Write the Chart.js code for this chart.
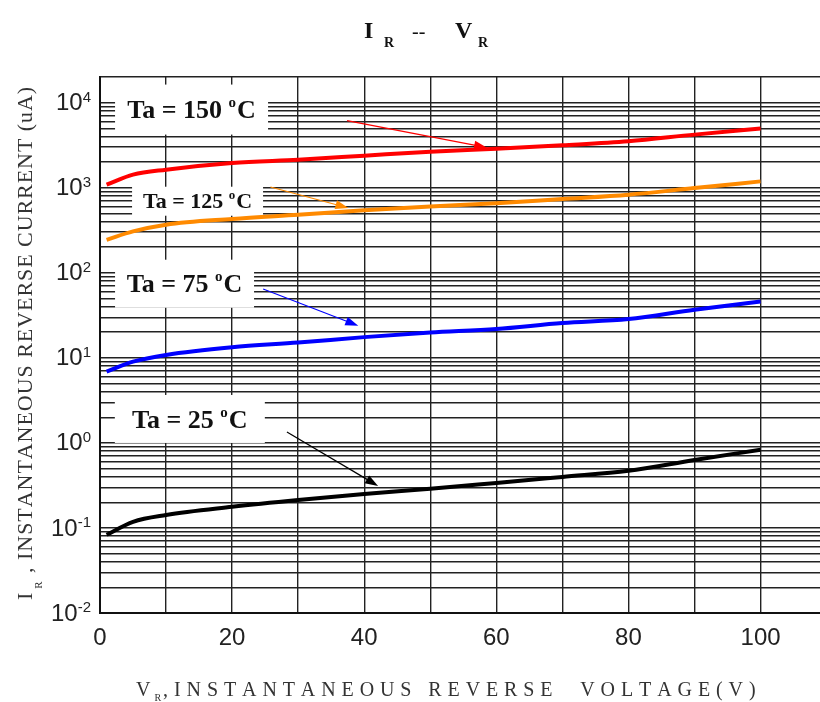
<!DOCTYPE html>
<html><head><meta charset="utf-8">
<script src="https://cdn.jsdelivr.net/npm/chart.js@4/dist/chart.umd.min.js"></script>
<style>html,body{margin:0;padding:0;background:#fff;overflow:hidden}canvas{display:block}</style>
</head><body>
<canvas id="c" width="820" height="702"></canvas>
<script>
// ---- data ----
const voltage = [1, 5, 10, 20, 30, 40, 50, 60, 70, 80, 90, 100];
const ir150 = [1084, 1422, 1629, 1950, 2133, 2378, 2650, 2870, 3150, 3510, 4204, 4950];
const ir125 = [244, 306, 367, 429, 481, 541, 600, 655, 736, 827, 991, 1186];
const ir75  = [6.9, 9.0, 10.8, 13.3, 15.1, 17.5, 19.8, 21.8, 25.6, 28.5, 36.7, 45.9];
const ir25  = [0.083, 0.118, 0.142, 0.177, 0.213, 0.251, 0.288, 0.338, 0.398, 0.469, 0.63, 0.83];
const seriesLabels = ['Ta = 150 °C', 'Ta = 125 °C', 'Ta = 75 °C', 'Ta = 25 °C'];
const xTickValues = [0, 10, 20, 30, 40, 50, 60, 70, 80, 90, 100];
const xLabelValues = [0, 20, 40, 60, 80, 100];
const yDecadeExponents = [-2, -1, 0, 1, 2, 3, 4];
const yMantissas = [1, 2, 3, 4, 5, 6, 7, 8, 9];
const yMin = 0.01, yMax = 20000, xMin = 0, xMax = 109;

// ---- annotation layout (data coordinates for anchors) ----
const seriesColors = ['#ff0000', '#ff8a00', '#0000ff', '#000000'];
const labelLayout = [
  {size: 26, cx: 13.86, cy: 8280, w: 153, h: 50, from: {x: 37.4, y: 6140}, to: {x: 58.6, y: 2955}},
  {size: 22, cx: 14.77, cy: 693,  w: 131, h: 29, from: {x: 25.8, y: 1018}, to: {x: 37.6, y: 577}},
  {size: 26, cx: 12.8,  cy: 74.3, w: 139, h: 48, from: {x: 24.7, y: 64.3}, to: {x: 39.1, y: 23.8}},
  {size: 26, cx: 13.6,  cy: 1.91, w: 150, h: 48, from: {x: 28.3, y: 1.34}, to: {x: 42.1, y: 0.312}}
];

const SERIF = '"Liberation Serif", "Times New Roman", serif';
const SANS = '"Liberation Sans", Arial, sans-serif';

function toPts(vals) { return voltage.map((v, i) => ({x: v, y: vals[i]})); }

function spacedText(ctx, str, x, y, spacing) {
  let cx = x;
  for (const ch of str) {
    ctx.fillText(ch, cx, y);
    cx += ctx.measureText(ch).width + spacing;
  }
  return cx;
}

function drawTaLabel(ctx, text, cx, cy, size) {
  const parts = text.split('°');
  const main = parts[0];
  const unit = parts[1];
  const fMain = `bold ${size}px ${SERIF}`;
  const fSup = `bold ${Math.round(size * 0.58)}px ${SERIF}`;
  ctx.font = fMain; const w1 = ctx.measureText(main).width; const w3 = ctx.measureText(unit).width;
  ctx.font = fSup; const w2 = ctx.measureText('o').width;
  const total = w1 + w2 + w3 + 1;
  const x0 = cx - total / 2;
  const base = cy + size * 0.33;
  ctx.fillStyle = '#111';
  ctx.textAlign = 'left'; ctx.textBaseline = 'alphabetic';
  ctx.font = fMain; ctx.fillText(main, x0, base);
  ctx.font = fSup; ctx.fillText('o', x0 + w1, base - size * 0.42);
  ctx.font = fMain; ctx.fillText(unit, x0 + w1 + w2 + 1, base);
}

function arrow(ctx, p1, p2, color) {
  const ang = Math.atan2(p2.y - p1.y, p2.x - p1.x);
  const L = 13, W = 4.5;
  ctx.save();
  ctx.strokeStyle = color; ctx.fillStyle = color; ctx.lineWidth = 1.2;
  ctx.beginPath(); ctx.moveTo(p1.x, p1.y);
  ctx.lineTo(p2.x - Math.cos(ang) * L * 0.8, p2.y - Math.sin(ang) * L * 0.8); ctx.stroke();
  ctx.beginPath();
  ctx.moveTo(p2.x, p2.y);
  ctx.lineTo(p2.x - Math.cos(ang) * L + Math.sin(ang) * W, p2.y - Math.sin(ang) * L - Math.cos(ang) * W);
  ctx.lineTo(p2.x - Math.cos(ang) * L - Math.sin(ang) * W, p2.y - Math.sin(ang) * L + Math.cos(ang) * W);
  ctx.closePath(); ctx.fill();
  ctx.restore();
}

const decor = {
  id: 'decor',
  beforeDatasetsDraw(chart) {
    const ctx = chart.ctx, xs = chart.scales.x, ys = chart.scales.y;
    ctx.save();
    labelLayout.forEach((L, i) => {
      const px = xs.getPixelForValue(L.cx), py = ys.getPixelForValue(L.cy);
      ctx.fillStyle = '#fff';
      ctx.fillRect(px - L.w / 2, py - L.h / 2, L.w, L.h);
      drawTaLabel(ctx, seriesLabels[i], px, py, L.size);
    });
    ctx.restore();
  },
  afterDatasetsDraw(chart) {
    const ctx = chart.ctx, xs = chart.scales.x, ys = chart.scales.y;
    labelLayout.forEach((L, i) => {
      const p1 = {x: xs.getPixelForValue(L.from.x), y: ys.getPixelForValue(L.from.y)};
      const p2 = {x: xs.getPixelForValue(L.to.x), y: ys.getPixelForValue(L.to.y)};
      arrow(ctx, p1, p2, seriesColors[i]);
    });
  },
  afterDraw(chart) {
    const ctx = chart.ctx, ys = chart.scales.y;
    ctx.save();
    // y decade labels 10^n
    ctx.fillStyle = '#222';
    yDecadeExponents.forEach(e => {
      const y = ys.getPixelForValue(Math.pow(10, e));
      const exp = String(e);
      ctx.font = `15px ${SANS}`; const we = ctx.measureText(exp).width;
      ctx.font = `24px ${SANS}`; const wb = ctx.measureText('10').width;
      const right = 91;
      ctx.textAlign = 'left';
      ctx.textBaseline = 'middle';
      ctx.fillText('10', right - we - wb, y + 1);
      ctx.font = `15px ${SANS}`; ctx.textBaseline = 'alphabetic';
      ctx.fillText(exp, right - we, y - 1);
    });
    // chart title  I_R -- V_R
    ctx.fillStyle = '#111'; ctx.textBaseline = 'alphabetic'; ctx.textAlign = 'left';
    ctx.font = `bold 24px ${SERIF}`; ctx.fillText('I', 364, 38);
    ctx.font = `bold 14px ${SERIF}`; ctx.fillText('R', 384, 47);
    ctx.font = `20px ${SERIF}`; ctx.fillText('--', 412, 38);
    ctx.font = `bold 24px ${SERIF}`; ctx.fillText('V', 455, 38);
    ctx.font = `bold 14px ${SERIF}`; ctx.fillText('R', 478, 47);
    // x axis title
    ctx.fillStyle = '#333';
    ctx.font = `20px ${SERIF}`;
    let x = spacedText(ctx, 'V', 136, 696, 6);
    ctx.font = `10px ${SERIF}`;
    x = spacedText(ctx, 'R', x - 2, 701, 2);
    ctx.font = `20px ${SERIF}`;
    spacedText(ctx, ',INSTANTANEOUS REVERSE  VOLTAGE(V)', x, 696, 5.9);
    // y axis title (rotated)
    ctx.translate(32, 600);
    ctx.rotate(-Math.PI / 2);
    ctx.font = `22px ${SERIF}`;
    let t = spacedText(ctx, 'I', 0, 0, 2);
    ctx.font = `11px ${SERIF}`;
    t = spacedText(ctx, 'R', t + 2, 10, 2);
    ctx.font = `22px ${SERIF}`;
    spacedText(ctx, ' , INSTANTANEOUS REVERSE CURRENT (uA)', t, 0, 0.95);
    ctx.restore();
  }
};

const gridStyle = {color: '#222', lineWidth: 1.4, drawTicks: false};

new Chart(document.getElementById('c'), {
  type: 'line',
  data: {
    datasets: [
      {label: seriesLabels[0], data: toPts(ir150), borderColor: seriesColors[0]},
      {label: seriesLabels[1], data: toPts(ir125), borderColor: seriesColors[1]},
      {label: seriesLabels[2], data: toPts(ir75),  borderColor: seriesColors[2]},
      {label: seriesLabels[3], data: toPts(ir25),  borderColor: seriesColors[3]}
    ].map(d => Object.assign(d, {borderWidth: 4, pointRadius: 0, fill: false, cubicInterpolationMode: 'monotone'}))
  },
  options: {
    responsive: false, animation: false, devicePixelRatio: 1,
    layout: {padding: {top: 77, left: 0, right: 0, bottom: 0}},
    plugins: {legend: {display: false}, tooltip: {enabled: false}, title: {display: false}},
    scales: {
      x: {
        type: 'linear', min: xMin, max: xMax,
        afterBuildTicks: s => { s.ticks = xTickValues.map(v => ({value: v})); },
        afterFit: s => { s.height = 89; },
        grid: gridStyle,
        border: {display: true, color: '#111', width: 2},
        ticks: {autoSkip: false, maxRotation: 0, padding: 11, color: '#222',
          font: {family: SANS, size: 24},
          callback: v => xLabelValues.includes(v) ? String(v) : ''}
      },
      y: {
        type: 'logarithmic', min: yMin, max: yMax,
        afterBuildTicks: s => {
          const t = [];
          const last = yDecadeExponents[yDecadeExponents.length - 1];
          yDecadeExponents.forEach(e => {
            if (e === last) { t.push({value: Math.pow(10, e)}); return; }
            yMantissas.forEach(m => t.push({value: +(m * Math.pow(10, e)).toPrecision(6)}));
          });
          t.push({value: yMax});
          s.ticks = t;
        },
        afterFit: s => { s.width = 100; },
        grid: gridStyle,
        border: {display: true, color: '#111', width: 2},
        ticks: {display: false}
      }
    }
  },
  plugins: [decor]
});
</script>
</body></html>
